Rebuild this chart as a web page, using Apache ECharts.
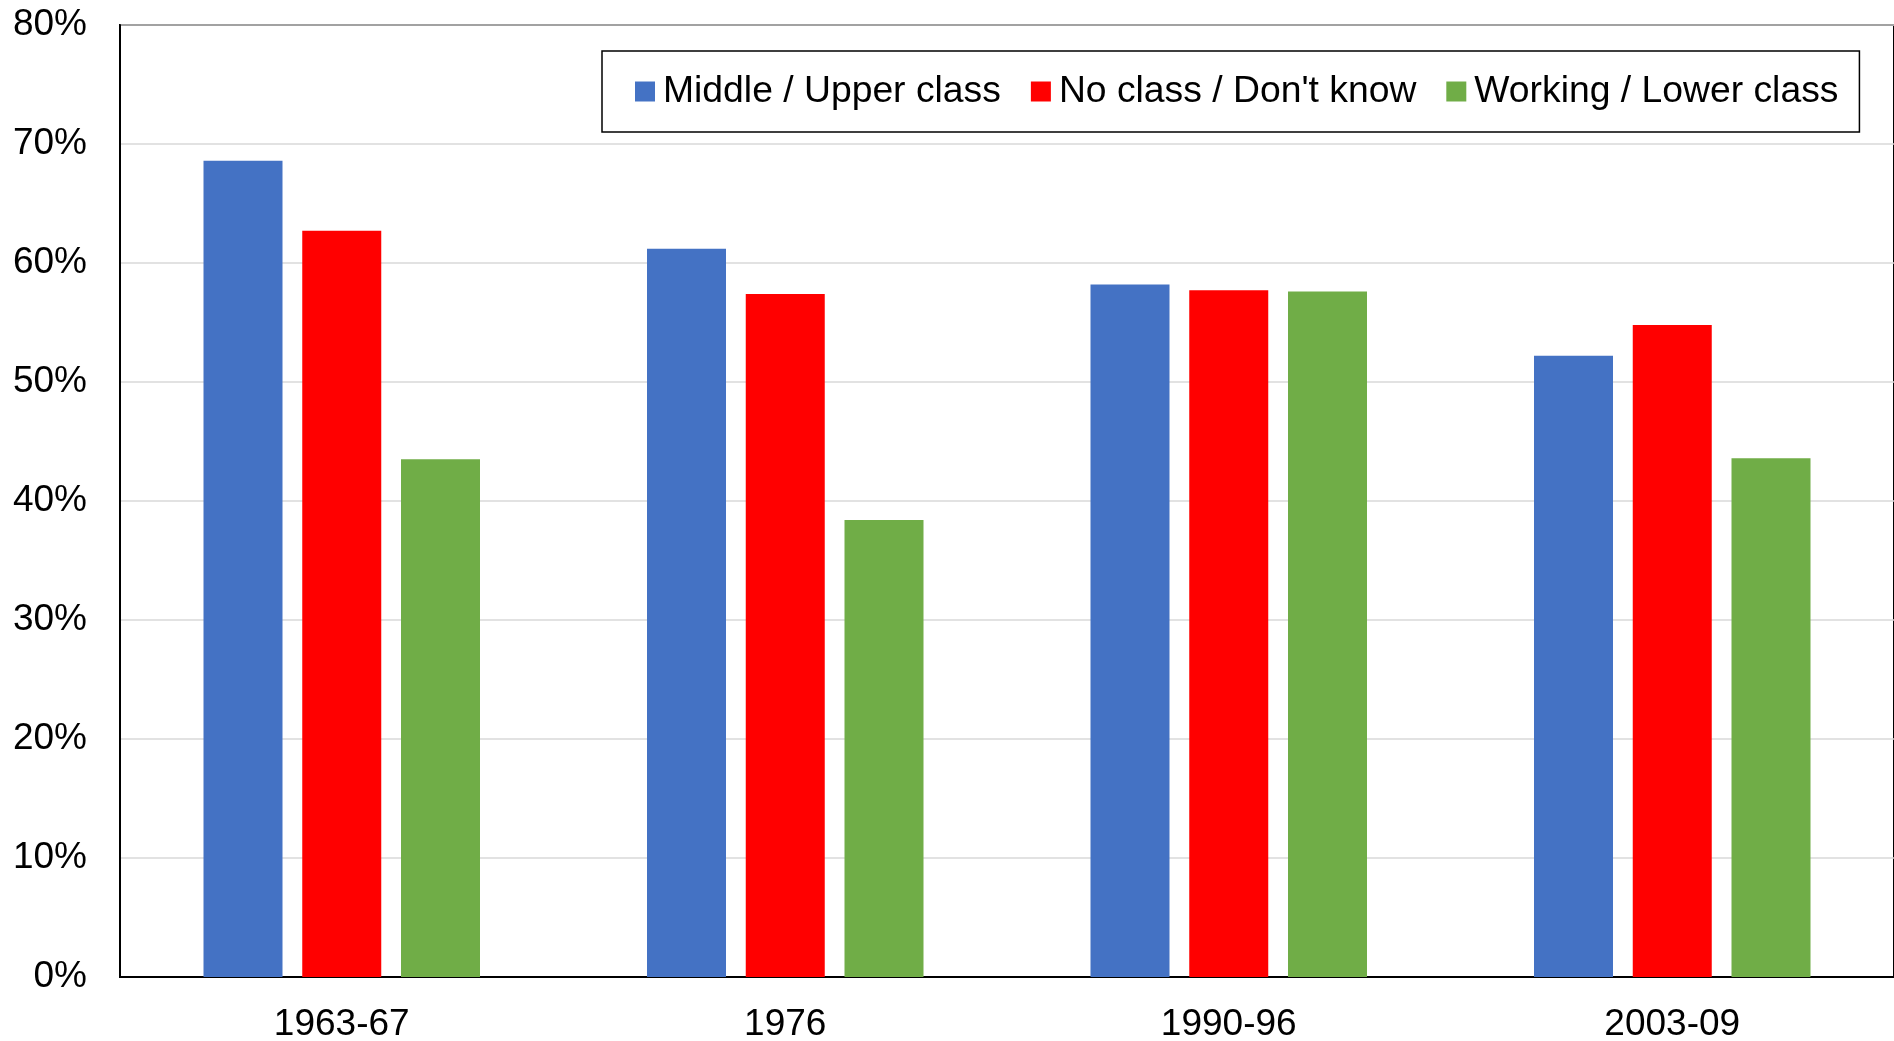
<!DOCTYPE html>
<html lang="en">
<head>
    <meta charset="UTF-8">
    <title>echarts</title>
    <script src="https://cdn.jsdelivr.net/npm/echarts@6/dist/echarts.min.js"></script>
    <style>
        html, body { margin: 0; padding: 0; background: #fff; }
    </style>
</head>
<body>
    <div id="charts1" style="width: 1894px;height:1041px;"></div>
    <script type="text/javascript">
        // data
        var periods = ['1963-67', '1976', '1990-96', '2003-09'];
        var seriesNames = ['Middle / Upper class', 'No class / Don\'t know', 'Working / Lower class'];
        var middleUpper = [68.6, 61.2, 58.2, 52.2];
        var noClass = [62.7, 57.4, 57.7, 54.8];
        var workingLower = [43.5, 38.4, 57.6, 43.6];
        var colors = ['#4472C4', '#FF0000', '#70AD47'];

        var font = 'Liberation Sans, Arial, sans-serif';
        var myChart = echarts.init(document.getElementById('charts1'));

        var option = {
            animation: false,
            color: colors,
            textStyle: { fontFamily: font },
            grid: {
                left: 120,
                top: 25,
                right: 0,
                bottom: 64,
                outerBoundsMode: 'none',
                containLabel: false,
                show: true,
                borderColor: '#000',
                borderWidth: 2
            },
            legend: {
                data: seriesNames,
                left: 602,
                top: 51,
                padding: [22, 21, 22, 33],
                borderColor: '#000',
                borderWidth: 1.5,
                icon: 'rect',
                itemWidth: 20,
                itemHeight: 20,
                itemGap: 30,
                textStyle: { fontSize: 37.3, color: '#000', fontFamily: font, lineHeight: 37, padding: [0, 0, 0, 3] }
            },
            xAxis: {
                type: 'category',
                data: periods,
                axisLine: { lineStyle: { color: '#000', width: 2 } },
                axisTick: { show: false },
                axisLabel: { fontSize: 37, color: '#000', margin: 29, fontFamily: font }
            },
            yAxis: {
                type: 'value',
                min: 0,
                max: 80,
                interval: 10,
                axisLine: { show: true, lineStyle: { color: '#000', width: 2 } },
                axisTick: { show: false },
                splitLine: { lineStyle: { color: '#d9d9d9', width: 1.5 } },
                axisLabel: { fontSize: 37, color: '#000', margin: 33, fontFamily: font, formatter: '{value}%' }
            },
            series: [
                { name: seriesNames[0], type: 'bar', data: middleUpper, barWidth: 79, barGap: '25%' },
                { name: seriesNames[1], type: 'bar', data: noClass, barWidth: 79, barGap: '25%' },
                { name: seriesNames[2], type: 'bar', data: workingLower, barWidth: 79, barGap: '25%' }
            ]
        };
        myChart.setOption(option);
    </script>
</body>
</html>
